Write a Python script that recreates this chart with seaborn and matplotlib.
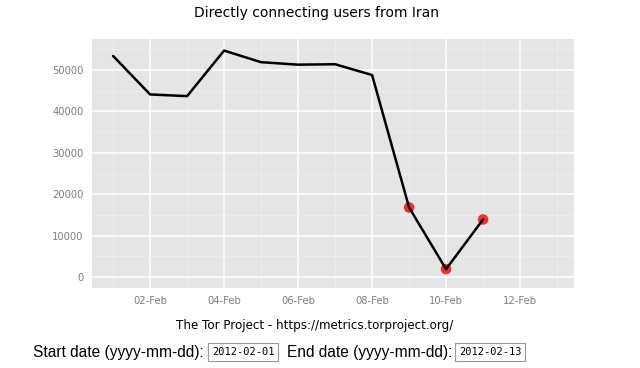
import seaborn as sns
import matplotlib.pyplot as plt
import matplotlib.dates as mdates
import pandas as pd
import numpy as np

dates = pd.date_range("2012-02-01", "2012-02-11", freq="D")
users = [53400, 44100, 43700, 54700, 51900, 51300, 51400, 48800, 16800, 1900, 13900]
flagged = ["2012-02-09", "2012-02-10", "2012-02-11"]

title = "Directly connecting users from Iran"
caption = "The Tor Project - https://metrics.torproject.org/"
start_date = "2012-02-01"
end_date = "2012-02-13"

df = pd.DataFrame({"date": dates, "users": users})
df_flag = df[df["date"].isin(pd.to_datetime(flagged))]

sns.set_style("darkgrid", {"axes.facecolor": "#e5e5e5", "grid.color": "white"})

fig = plt.figure(figsize=(6.4, 3.68), dpi=100)
ax = fig.add_axes([92 / 640, 1 - 288 / 368, (574 - 92) / 640, (288 - 39) / 368])

sns.scatterplot(data=df_flag, x="date", y="users", color="#f21d1d", s=58,
                edgecolor="none", alpha=0.9, zorder=2, ax=ax)
sns.lineplot(data=df, x="date", y="users", color="black", linewidth=1.8, zorder=3, ax=ax)

x0 = pd.Timestamp("2012-02-01") - pd.Timedelta(hours=13.7)
x1 = pd.Timestamp("2012-02-13") + pd.Timedelta(hours=11)
ax.set_xlim(x0, x1)
ax.set_ylim(-2660, 57500)

ax.xaxis.set_major_locator(mdates.DayLocator(bymonthday=[2, 4, 6, 8, 10, 12]))
ax.xaxis.set_minor_locator(mdates.DayLocator(bymonthday=[1, 3, 5, 7, 9, 11, 13]))
ax.xaxis.set_major_formatter(mdates.DateFormatter("%d-%b"))
ax.set_yticks([0, 10000, 20000, 30000, 40000, 50000])
ax.set_yticks(np.arange(5000, 56000, 10000), minor=True)

ax.grid(which="major", color="white", linewidth=1.1)
ax.grid(which="minor", color="#f0f0f0", linewidth=0.5)
ax.tick_params(which="major", length=4, color="#7f7f7f", labelsize=7.2,
               labelcolor="#7f7f7f", width=0.8, pad=2)
ax.tick_params(which="minor", length=0)
for s in ax.spines.values():
    s.set_visible(False)
ax.set_xlabel("")
ax.set_ylabel("")

fig.text(317 / 640, 1 - 13 / 368, title, ha="center", va="center",
         fontsize=10, color="black", family="DejaVu Sans")
fig.text(315 / 640, 1 - 326 / 368, caption, ha="center", va="center",
         fontsize=8.6, color="black", family="DejaVu Sans")

form_y = 1 - 352 / 368
box = dict(boxstyle="square,pad=0.35", facecolor="white", edgecolor="#999999", linewidth=0.8)
fig.text(33 / 640, form_y, "Start date (yyyy-mm-dd):", ha="left", va="center",
         fontsize=11.2, color="black", family="Liberation Sans")
fig.text(212 / 640, form_y, start_date, ha="left", va="center",
         fontsize=7.5, color="black", family="DejaVu Sans Mono", bbox=box)
fig.text(287 / 640, form_y, "End date (yyyy-mm-dd):", ha="left", va="center",
         fontsize=11.2, color="black", family="Liberation Sans")
fig.text(459 / 640, form_y, end_date, ha="left", va="center",
         fontsize=7.5, color="black", family="DejaVu Sans Mono", bbox=box)

fig.savefig("out.png", dpi=100)
